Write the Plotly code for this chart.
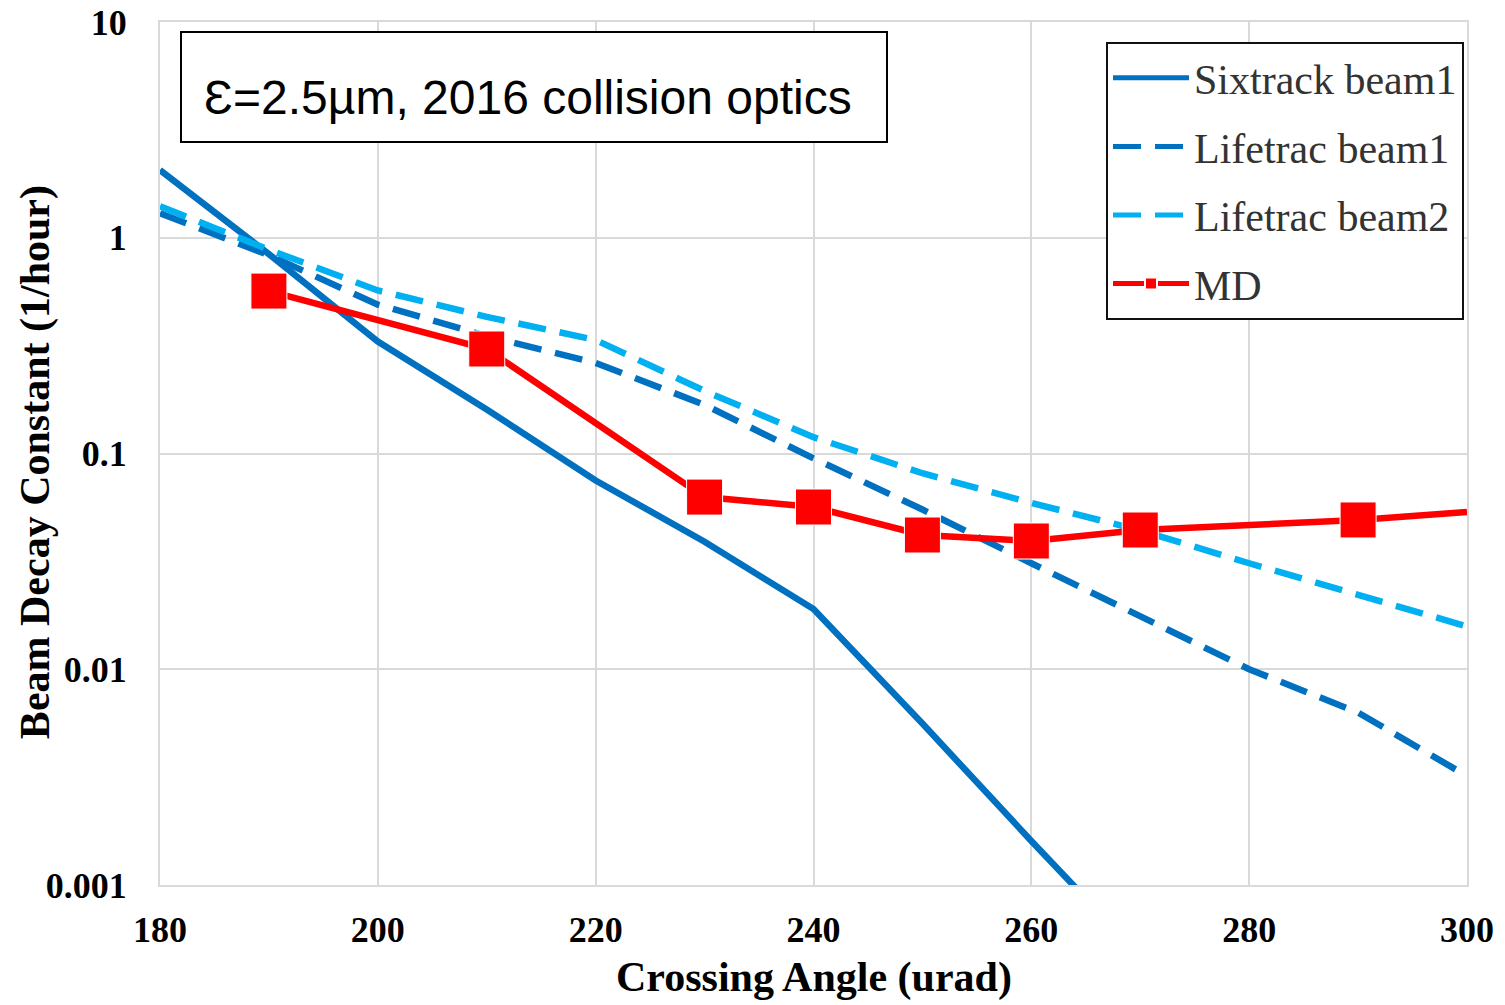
import plotly.graph_objects as go

# Crossing angle (urad) and beam decay constants (1/hour)
sixtrack_x = [180, 190, 200, 210, 220, 230, 240, 250, 260, 270]
sixtrack_b1 = [2.06, 0.84, 0.33, 0.16, 0.075, 0.039, 0.019, 0.0056, 0.0016, 0.00047]

lifetrac_x = [180, 190, 200, 210, 220, 230, 240, 250, 260, 270, 280, 290, 300]
lifetrac_b1 = [1.30, 0.83, 0.49, 0.35, 0.263, 0.168, 0.095, 0.055, 0.031, 0.0175, 0.010, 0.0063, 0.0032]
lifetrac_b2 = [1.40, 0.88, 0.57, 0.43, 0.336, 0.195, 0.119, 0.081, 0.059, 0.044, 0.031, 0.022, 0.0158]

md_x = [190, 210, 230, 240, 250, 260, 270, 290, 300]
md_y = [0.566, 0.305, 0.0628, 0.0565, 0.0419, 0.0393, 0.0442, 0.0492, 0.0536]
md_marker_size = [36, 36, 36, 36, 36, 36, 36, 36, 0]

y_tickvals = [0.001, 0.01, 0.1, 1, 10]
y_ticktext = ["0.001", "0.01", "0.1", "1", "10"]
x_tickvals = [180, 200, 220, 240, 260, 280, 300]

DARK_BLUE = "#0070C0"
LIGHT_BLUE = "#00B0F0"
RED = "#FF0000"
GRID = "#d9d9d9"
SERIF = "Liberation Serif, Times New Roman, serif"

# plot area geometry in pixels, used to place paper-referenced decorations
W, H = 1505, 1005
ML, MR, MT, MB = 160, 38, 22, 120
PW, PH = W - ML - MR, H - MT - MB


def px_x(px):
    return (px - ML) / PW


def px_y(py):
    return 1 - (py - MT) / PH


fig = go.Figure()
fig.add_trace(go.Scatter(
    x=sixtrack_x, y=sixtrack_b1, mode="lines", name="Sixtrack beam1",
    legendgroup="g1", line=dict(color=DARK_BLUE, width=6.5)))
fig.add_trace(go.Scatter(
    x=lifetrac_x, y=lifetrac_b1, mode="lines", name="Lifetrac beam1",
    legendgroup="g2", line=dict(color=DARK_BLUE, width=6.5, dash="28px,14px")))
fig.add_trace(go.Scatter(
    x=lifetrac_x, y=lifetrac_b2, mode="lines", name="Lifetrac beam2",
    legendgroup="g3", line=dict(color=LIGHT_BLUE, width=6.5, dash="28px,14px")))
fig.add_trace(go.Scatter(
    x=md_x, y=md_y, mode="lines+markers", name="MD",
    legendgroup="g4", line=dict(color=RED, width=6.5),
    marker=dict(symbol="square", size=md_marker_size, color=RED, opacity=1)))

fig.update_layout(
    width=W, height=H,
    margin=dict(l=ML, r=MR, t=MT, b=MB, autoexpand=False),
    paper_bgcolor="white", plot_bgcolor="white",
    showlegend=True,
    legend=dict(
        x=px_x(1106), y=px_y(42), xanchor="left", yanchor="top",
        bgcolor="white", bordercolor="#111111", borderwidth=2,
        font=dict(family=SERIF, size=42, color="#333333"),
        itemwidth=76, traceorder="grouped", tracegroupgap=11,
        itemsizing="constant",
    ),
    xaxis=dict(
        range=[180, 300], tickvals=x_tickvals, automargin=False,
        showgrid=True, gridcolor=GRID, gridwidth=2,
        showline=True, linecolor=GRID, linewidth=2, mirror=True,
        zeroline=False, ticks="", ticklabelstandoff=12,
        tickfont=dict(family=SERIF, size=36, color="black", weight="bold"),
    ),
    yaxis=dict(
        type="log", range=[-3, 1], automargin=False,
        tickvals=y_tickvals, ticktext=y_ticktext,
        showgrid=True, gridcolor=GRID, gridwidth=2,
        showline=True, linecolor=GRID, linewidth=2, mirror=True,
        zeroline=False, ticks="", ticklabelstandoff=24,
        tickfont=dict(family=SERIF, size=36, color="black", weight="bold"),
    ),
)

# Axis titles
fig.add_annotation(
    text="Crossing Angle (urad)", xref="paper", yref="paper",
    x=0.5, y=px_y(977), xanchor="center", yanchor="middle", showarrow=False,
    font=dict(family=SERIF, size=42, color="black", weight="bold"))
fig.add_annotation(
    text="Beam Decay Constant (1/hour)", xref="paper", yref="paper",
    x=px_x(35), y=0.49, xanchor="center", yanchor="middle", showarrow=False,
    textangle=-90,
    font=dict(family=SERIF, size=42, color="black", weight="bold"))

# Emittance / optics label in a framed box
fig.add_shape(
    type="rect", xref="paper", yref="paper",
    x0=px_x(181), x1=px_x(887), y0=px_y(142), y1=px_y(32),
    line=dict(color="black", width=2), fillcolor="white", layer="above")
fig.add_annotation(
    text="\u0190=2.5\u00b5m, 2016 collision optics", xref="paper", yref="paper",
    x=px_x(202), y=px_y(97), xanchor="left", yanchor="middle",
    showarrow=False, align="left",
    font=dict(family="Liberation Sans, Arial, sans-serif", size=48, color="black"))

fig.write_html("out.html")
